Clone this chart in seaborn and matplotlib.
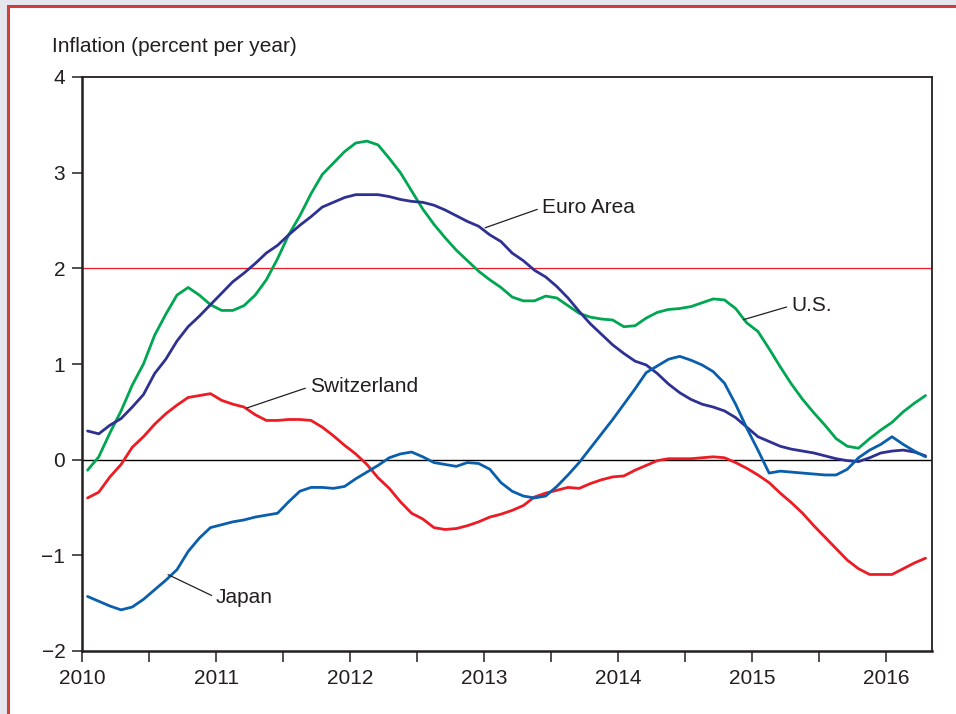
import numpy as np
import pandas as pd
import matplotlib
matplotlib.use("Agg")
import matplotlib.pyplot as plt
from matplotlib.patches import Rectangle
from matplotlib.ticker import MultipleLocator
import seaborn as sns

# monthly readings, Jan 2010 .. Apr 2016 (percent per year)
us = [-0.11, 0.03, 0.28, 0.51, 0.78, 1.00, 1.30, 1.52, 1.72, 1.80, 1.72, 1.62,
      1.56, 1.56, 1.61, 1.72, 1.88, 2.10, 2.35, 2.55, 2.78, 2.98, 3.10, 3.22,
      3.31, 3.33, 3.29, 3.15, 3.00, 2.81, 2.62, 2.46, 2.32, 2.19, 2.08, 1.97,
      1.88, 1.80, 1.70, 1.66, 1.66, 1.71, 1.69, 1.61, 1.53, 1.49, 1.47, 1.46,
      1.39, 1.40, 1.48, 1.54, 1.57, 1.58, 1.60, 1.64, 1.68, 1.67, 1.58, 1.43,
      1.34, 1.16, 0.97, 0.79, 0.63, 0.49, 0.36, 0.22, 0.14, 0.12, 0.22, 0.31,
      0.39, 0.50, 0.59, 0.67]
euro = [0.30, 0.27, 0.36, 0.43, 0.55, 0.68, 0.90, 1.05, 1.24, 1.39, 1.50, 1.62,
        1.74, 1.86, 1.95, 2.05, 2.16, 2.24, 2.35, 2.45, 2.54, 2.64, 2.69, 2.74,
        2.77, 2.77, 2.77, 2.75, 2.72, 2.70, 2.69, 2.66, 2.61, 2.55, 2.49, 2.44,
        2.35, 2.28, 2.16, 2.08, 1.98, 1.91, 1.81, 1.69, 1.55, 1.42, 1.31, 1.20,
        1.11, 1.03, 0.99, 0.90, 0.79, 0.70, 0.63, 0.58, 0.55, 0.51, 0.44, 0.34,
        0.24, 0.19, 0.14, 0.11, 0.09, 0.07, 0.04, 0.01, -0.01, -0.02, 0.02, 0.07,
        0.09, 0.10, 0.08, 0.04]
swiss = [-0.40, -0.34, -0.18, -0.05, 0.13, 0.24, 0.37, 0.48, 0.57, 0.65, 0.67, 0.69,
         0.62, 0.58, 0.55, 0.47, 0.41, 0.41, 0.42, 0.42, 0.41, 0.34, 0.25, 0.15,
         0.06, -0.05, -0.19, -0.30, -0.44, -0.56, -0.62, -0.71, -0.73, -0.72, -0.69, -0.65,
         -0.60, -0.57, -0.53, -0.48, -0.39, -0.35, -0.32, -0.29, -0.30, -0.25, -0.21, -0.18,
         -0.17, -0.11, -0.06, -0.01, 0.01, 0.01, 0.01, 0.02, 0.03, 0.02, -0.03, -0.09,
         -0.16, -0.24, -0.35, -0.45, -0.56, -0.69, -0.81, -0.93, -1.05, -1.14, -1.20, -1.20,
         -1.20, -1.14, -1.08, -1.03]
japan = [-1.43, -1.48, -1.53, -1.57, -1.54, -1.46, -1.36, -1.26, -1.15, -0.96, -0.82, -0.71,
         -0.68, -0.65, -0.63, -0.60, -0.58, -0.56, -0.44, -0.33, -0.29, -0.29, -0.30, -0.28,
         -0.20, -0.13, -0.06, 0.02, 0.06, 0.08, 0.03, -0.03, -0.05, -0.07, -0.03, -0.04,
         -0.10, -0.24, -0.33, -0.38, -0.40, -0.38, -0.28, -0.16, -0.03, 0.12, 0.27, 0.42,
         0.58, 0.74, 0.91, 0.98, 1.05, 1.08, 1.04, 0.99, 0.92, 0.80, 0.58, 0.33,
         0.10, -0.14, -0.12, -0.13, -0.14, -0.15, -0.16, -0.16, -0.10, 0.02, 0.10, 0.16,
         0.24, 0.16, 0.09, 0.03]

countries = ["U.S.", "Euro Area", "Switzerland", "Japan"]
colors = {"U.S.": "#00a651", "Euro Area": "#2e3192",
          "Switzerland": "#ed1c24", "Japan": "#0a5fad"}
target = 2.0

months = pd.date_range("2010-01-01", periods=len(us), freq="MS")
year = months.year + (months.month - 0.5) / 12.0

df = pd.DataFrame({"year": year, "U.S.": us, "Euro Area": euro,
                   "Switzerland": swiss, "Japan": japan})
df = df.melt(id_vars="year", var_name="country", value_name="inflation")

sns.set_style("ticks")
plt.rcParams["font.family"] = ["Liberation Sans", "DejaVu Sans"]
fsize = 15

fig = plt.figure(figsize=(9.56, 7.14), dpi=100)
fig.patch.set_facecolor("#e6e6ef")
fig.patches.append(Rectangle((8 / 956, -0.05), 1.2, 1 - 6 / 714 + 0.05,
                             transform=fig.transFigure, facecolor="white",
                             edgecolor="#cc3f3a", linewidth=2.2, zorder=-5))
ax = fig.add_axes([82 / 956, 1 - 651 / 714, 850 / 956, 574 / 714])
ax.set_facecolor("white")

ax.axhline(target, color="#ed1c24", lw=0.9, zorder=1)
ax.axhline(0, color="black", lw=1.0, zorder=1)
sns.lineplot(data=df, x="year", y="inflation", hue="country", hue_order=countries,
             palette=colors, linewidth=2.0, legend=False, ax=ax, zorder=3)

ax.set_xlim(2010, 2016.34)
ax.set_ylim(-2, 4)
ax.xaxis.set_major_locator(MultipleLocator(1))
ax.xaxis.set_minor_locator(MultipleLocator(0.5))
ax.xaxis.set_major_formatter(matplotlib.ticker.FormatStrFormatter("%d"))
ax.yaxis.set_major_locator(MultipleLocator(1))
ax.tick_params(axis="x", which="both", direction="out", length=8, width=1.2,
               labelsize=fsize, pad=5, color="#333333")
ax.tick_params(axis="y", direction="out", length=7, width=1.2, labelsize=fsize,
               pad=5, color="#333333")
ax.tick_params(labelcolor="#231f20")
ax.set_xlabel("")
ax.set_ylabel("")
for s in ["left", "bottom"]:
    ax.spines[s].set_linewidth(1.8)
    ax.spines[s].set_color("#231f20")
for s in ["top", "right"]:
    ax.spines[s].set_linewidth(1.3)
    ax.spines[s].set_color("#231f20")

fig.text(52 / 956, 1 - 47 / 714, "Inflation (percent per year)", fontsize=fsize,
         color="#231f20", ha="left", va="center")

lead = dict(arrowstyle="-", color="#231f20", lw=0.9, relpos=(0, 0.5),
            shrinkA=1, shrinkB=0)
ax.annotate("Euro Area", xy=(2013.007, 2.424), xytext=(2013.43, 2.633),
            fontsize=fsize, color="#231f20", ha="left", va="center", arrowprops=lead)
ax.annotate("U.S.", xy=(2014.933, 1.463), xytext=(2015.29, 1.61),
            fontsize=fsize, color="#231f20", ha="left", va="center", arrowprops=lead)
ax.annotate("Switzerland", xy=(2011.229, 0.540), xytext=(2011.70, 0.763),
            fontsize=fsize, color="#231f20", ha="left", va="center", arrowprops=lead)
ax.annotate("Japan", xy=(2010.642, -1.202), xytext=(2011.0, -1.442),
            fontsize=fsize, color="#231f20", ha="left", va="center", arrowprops=lead)

fig.savefig("out.png", dpi=100)
